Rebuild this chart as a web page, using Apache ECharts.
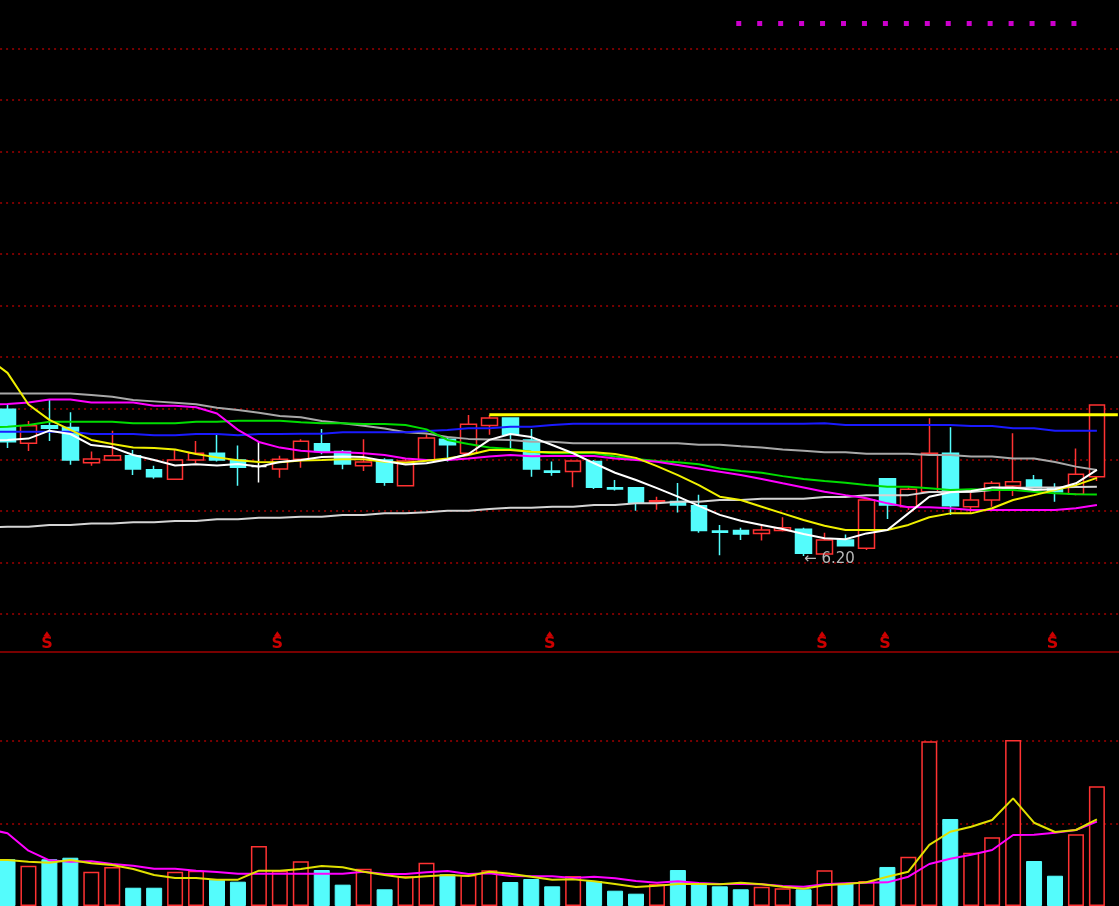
<!DOCTYPE html>
<html><head><meta charset="utf-8">
<script src="https://cdn.jsdelivr.net/npm/echarts@6/dist/echarts.min.js"></script>
<style>html,body{margin:0;padding:0;background:#000;overflow:hidden}#c{width:1119px;height:906px}</style>
</head><body><div id="c"></div>
<script>
// ---- data (53 trading days) ----
const DAYS = ['1','2','3','4','5','6','7','8','9','10','11','12','13','14','15','16','17','18','19','20','21','22','23','24','25','26','27','28','29','30','31','32','33','34','35','36','37','38','39','40','41','42','43','44','45','46','47','48','49','50','51','52','53'];
const OPEN  = [6.771,6.639,6.707,6.700,6.563,6.574,6.590,6.536,6.499,6.574,6.600,6.574,6.548,6.539,6.577,6.637,6.607,6.551,6.574,6.474,6.574,6.655,6.600,6.708,6.737,6.652,6.531,6.529,6.568,6.466,6.466,6.409,6.412,6.396,6.297,6.299,6.288,6.299,6.304,6.208,6.262,6.230,6.501,6.392,6.450,6.600,6.392,6.418,6.473,6.496,6.466,6.440,6.509];
const CLOSE = [6.645,6.707,6.697,6.574,6.578,6.590,6.539,6.509,6.574,6.600,6.574,6.546,6.548,6.577,6.647,6.607,6.558,6.566,6.487,6.570,6.659,6.633,6.713,6.737,6.674,6.539,6.526,6.570,6.468,6.461,6.408,6.415,6.399,6.299,6.292,6.286,6.301,6.310,6.211,6.262,6.240,6.418,6.399,6.460,6.600,6.396,6.418,6.483,6.489,6.466,6.450,6.518,6.788];
const LOW   = [6.620,6.609,6.648,6.555,6.551,6.574,6.515,6.501,6.499,6.561,6.568,6.474,6.486,6.505,6.544,6.596,6.538,6.531,6.474,6.474,6.574,6.568,6.600,6.672,6.617,6.509,6.512,6.468,6.461,6.455,6.376,6.380,6.369,6.291,6.203,6.262,6.260,6.295,6.200,6.208,6.240,6.223,6.344,6.379,6.450,6.360,6.366,6.392,6.434,6.466,6.411,6.437,6.492];
const HIGH  = [6.791,6.726,6.811,6.760,6.607,6.688,6.613,6.551,6.616,6.648,6.672,6.630,6.648,6.590,6.655,6.694,6.613,6.655,6.581,6.578,6.674,6.665,6.749,6.749,6.737,6.694,6.568,6.570,6.574,6.496,6.466,6.431,6.484,6.438,6.321,6.310,6.325,6.351,6.310,6.291,6.284,6.418,6.501,6.467,6.736,6.701,6.457,6.492,6.678,6.515,6.483,6.619,6.788];

// moving averages (first value = day before the window, off-screen)
const MA5   = [6.648, 6.652,6.657,6.688,6.675,6.632,6.623,6.593,6.574,6.552,6.557,6.552,6.558,6.548,6.566,6.574,6.585,6.587,6.585,6.570,6.556,6.561,6.576,6.597,6.652,6.675,6.663,6.632,6.600,6.561,6.524,6.496,6.464,6.431,6.395,6.360,6.337,6.321,6.305,6.286,6.269,6.265,6.288,6.301,6.366,6.431,6.448,6.453,6.467,6.467,6.457,6.460,6.483,6.535];
const MA10  = [6.975, 6.913,6.790,6.730,6.691,6.652,6.636,6.622,6.620,6.615,6.597,6.584,6.573,6.566,6.565,6.572,6.574,6.577,6.577,6.567,6.563,6.571,6.580,6.593,6.613,6.613,6.606,6.604,6.604,6.604,6.597,6.582,6.550,6.515,6.476,6.431,6.418,6.392,6.366,6.340,6.318,6.301,6.301,6.301,6.321,6.351,6.366,6.366,6.386,6.418,6.437,6.457,6.476,6.504];
const MA20  = [6.790, 6.792,6.798,6.809,6.809,6.798,6.798,6.798,6.785,6.785,6.779,6.755,6.691,6.644,6.622,6.610,6.604,6.604,6.600,6.593,6.580,6.574,6.574,6.580,6.587,6.593,6.588,6.589,6.589,6.589,6.580,6.574,6.567,6.554,6.541,6.528,6.515,6.500,6.483,6.467,6.450,6.437,6.425,6.405,6.390,6.390,6.386,6.379,6.379,6.379,6.379,6.379,6.386,6.399];
const MA30  = [6.700, 6.703,6.710,6.723,6.723,6.723,6.723,6.717,6.717,6.717,6.723,6.723,6.727,6.727,6.727,6.721,6.717,6.717,6.714,6.714,6.710,6.693,6.652,6.636,6.622,6.617,6.606,6.600,6.600,6.600,6.587,6.578,6.570,6.565,6.557,6.541,6.531,6.524,6.511,6.500,6.492,6.485,6.476,6.470,6.470,6.464,6.457,6.460,6.457,6.457,6.450,6.444,6.440,6.439];
const MA60  = [6.684, 6.684,6.684,6.684,6.684,6.675,6.675,6.675,6.670,6.670,6.675,6.675,6.670,6.675,6.675,6.676,6.676,6.682,6.682,6.682,6.682,6.687,6.691,6.697,6.697,6.703,6.703,6.710,6.715,6.715,6.715,6.715,6.715,6.715,6.715,6.715,6.715,6.715,6.715,6.715,6.717,6.710,6.710,6.710,6.710,6.710,6.710,6.706,6.706,6.697,6.697,6.688,6.688,6.688];
const MA120 = [6.833, 6.833,6.833,6.833,6.833,6.827,6.820,6.807,6.802,6.797,6.791,6.777,6.768,6.758,6.745,6.740,6.726,6.717,6.707,6.696,6.682,6.677,6.663,6.656,6.654,6.652,6.645,6.645,6.639,6.639,6.639,6.639,6.639,6.639,6.633,6.633,6.627,6.622,6.615,6.610,6.604,6.604,6.598,6.598,6.598,6.593,6.593,6.587,6.587,6.580,6.580,6.566,6.548,6.535];
const MA250 = [6.312, 6.314,6.314,6.321,6.321,6.327,6.327,6.331,6.331,6.336,6.336,6.343,6.343,6.349,6.349,6.353,6.353,6.360,6.360,6.366,6.366,6.370,6.376,6.376,6.383,6.388,6.388,6.392,6.392,6.399,6.399,6.405,6.405,6.411,6.411,6.418,6.418,6.423,6.423,6.423,6.430,6.430,6.437,6.437,6.437,6.449,6.449,6.449,6.457,6.465,6.467,6.467,6.469,6.470];

// horizontal level drawn from day 24 to the right edge
const LEVEL_START = 23;
const LEVEL_PRICE = 6.750;

// volume
const VOLUME  = [56.5,48.7,56.5,58.4,41.5,47.2,22.1,22.1,41.5,42.7,31.8,29.4,72.6,42.7,54.0,43.5,25.8,45.1,20.2,36.3,52.4,38.3,37.5,43.1,29.0,32.6,23.8,36.3,30.2,18.5,14.9,26.6,43.5,27.4,23.8,20.2,23.4,21.4,20.2,43.1,27.4,30.2,47.2,59.6,199.1,105.2,64.5,83.1,200.7,54.4,36.6,86.7,144.7];
const VOL_MA5  = [56.0, 55.6,53.6,52.4,55.6,51.6,49.6,44.7,37.5,33.9,33.9,31.8,31.8,42.7,42.7,44.7,48.4,46.8,41.5,37.5,34.2,35.9,37.5,36.3,41.5,39.1,35.4,31.8,32.2,29.8,26.6,23.0,24.5,26.6,26.6,26.2,28.2,26.2,23.4,20.9,25.0,26.6,28.7,35.4,41.5,73.8,89.8,95.9,104.0,130.2,100.7,89.5,91.9,104.8];
const VOL_MA10 = [93.5, 87.9,66.9,55.2,53.6,54.0,50.8,48.7,45.1,45.0,42.7,41.1,39.1,39.1,39.1,39.1,39.1,39.1,41.5,38.7,38.7,40.7,42.3,38.7,39.5,36.3,35.9,35.9,33.9,35.5,33.5,30.2,28.2,29.8,27.8,26.6,26.6,26.2,24.2,23.4,26.2,27.4,28.2,28.6,35.4,50.8,57.2,62.0,67.7,85.9,86.3,88.7,91.9,102.0];

// signal days ("S" marks) and top marker days
const SIGNAL_DAYS = [2, 13, 26, 39, 42, 50];
const TOP_MARK_DAYS = [35,36,37,38,39,40,41,42,43,44,45,46,47,48,49,50,51];

// ---- layout constants ----
const BW = 20.95;                 // band width per day
const LEFT = 7.5 - 1.5 * BW;      // one hidden slot left of day 1
const WIDTH = 55 * BW;            // 1 hidden + 53 days + 1 hidden
const UP = '#ff3232', DOWN = '#54fcfc', GRIDC = '#a00000';
const LW = 2;

const PAD = '-';
const cats = [''].concat(DAYS, ['']);
const candleData = [[PAD, PAD, PAD, PAD]];
for (let i = 0; i < DAYS.length; i++) {
  const it = { value: [OPEN[i], CLOSE[i], LOW[i], HIGH[i]] };
  if (OPEN[i] === CLOSE[i]) it.itemStyle = { color: '#fff', color0: '#fff', borderColor: '#fff', borderColor0: '#fff' };
  candleData.push(it);
}
candleData.push([PAD, PAD, PAD, PAD]);

const volData = [PAD];
for (let i = 0; i < DAYS.length; i++) {
  const up = CLOSE[i] >= OPEN[i];
  volData.push({ value: VOLUME[i], itemStyle: up ? { color: '#000', borderColor: UP, borderWidth: 1.5 } : { color: DOWN, borderColor: DOWN, borderWidth: 1 } });
}
volData.push(PAD);

let lowIdx = 0;
LOW.forEach((v, i) => { if (v < LOW[lowIdx]) lowIdx = i; });

const levelData = cats.map((c, k) => (k >= LEVEL_START + 1 ? LEVEL_PRICE : PAD));

function line(name, vals, color, width, xi, yi, z) {
  return { name, type: 'line', xAxisIndex: xi, yAxisIndex: yi, data: vals.concat([PAD]),
    symbol: 'none', silent: true, z: z || 3, lineStyle: { color, width }, animation: false };
}

const hiddenX = (gi, show) => ({ type: 'category', gridIndex: gi, data: cats, boundaryGap: true, show: !!show,
  axisTick: { show: false }, axisLabel: { show: false }, splitLine: { show: false },
  axisLine: { show: !!show, onZero: false, lineStyle: { color: GRIDC, width: 1.5 } } });
const hiddenY = (gi, min, max) => ({ type: 'value', gridIndex: gi, min, max, show: false, splitLine: { show: false } });
const gridAt = (top, height) => ({ left: LEFT, width: WIDTH, top, height, containLabel: false, outerBoundsMode: 'none' });

const option = {
  backgroundColor: '#000',
  animation: false,
  grid: [gridAt(48.7, 565.1), gridAt(657.9, 248.1), gridAt(625.5, 26), gridAt(15, 17)],
  xAxis: [hiddenX(0), hiddenX(1), hiddenX(2, true), hiddenX(3)],
  yAxis: [
    hiddenY(0, 5.975, 8.175),
    { type: 'value', gridIndex: 0, min: 0, max: 11, interval: 1, axisLine: { show: false }, axisTick: { show: false }, axisLabel: { show: false },
      splitLine: { show: true, lineStyle: { color: GRIDC, type: [2, 4], width: 1.5 } } },
    { type: 'value', gridIndex: 1, min: 0, max: 300, interval: 100, axisLine: { show: false }, axisTick: { show: false }, axisLabel: { show: false },
      splitLine: { show: true, showMinLine: false, showMaxLine: false, lineStyle: { color: GRIDC, type: [2, 4], width: 1.5 } } },
    hiddenY(2, 0, 1),
    hiddenY(3, 0, 1)
  ],
  series: [
    { type: 'candlestick', xAxisIndex: 0, yAxisIndex: 0, data: candleData, barWidth: 16, z: 2, silent: true,
      itemStyle: { color: '#000', color0: DOWN, borderColor: UP, borderColor0: DOWN, borderColorDoji: '#fff', borderWidth: 1.5 },
      markPoint: { symbol: 'circle', symbolSize: 1, silent: true, itemStyle: { color: 'transparent' },
        data: [{ coord: [lowIdx + 1, LOW[lowIdx]], value: LOW[lowIdx] }],
        label: { show: true, position: 'right', distance: 0, offset: [0, 3], color: '#b8b8b8', fontSize: 15,
          fontFamily: 'DejaVu Sans', formatter: p => '\u2190 ' + p.value.toFixed(2) } } },
    line('MA250', MA250, '#d4d4d4', LW, 0, 0),
    line('MA120', MA120, '#a8a8a8', LW, 0, 0),
    line('MA60', MA60, '#1a1aff', LW, 0, 0),
    line('MA30', MA30, '#00dd00', LW, 0, 0),
    line('MA20', MA20, '#ff00ff', LW, 0, 0),
    line('MA10', MA10, '#f0f000', LW, 0, 0),
    line('MA5', MA5, '#ffffff', LW, 0, 0),
    { name: 'level', type: 'line', xAxisIndex: 0, yAxisIndex: 0, data: levelData, symbol: 'none', silent: true, z: 5,
      lineStyle: { color: '#ffff00', width: 3 } },
    { type: 'bar', xAxisIndex: 1, yAxisIndex: 2, data: volData, barWidth: 16, z: 2, silent: true },
    line('VMA10', VOL_MA10, '#ff00ff', LW, 1, 2),
    line('VMA5', VOL_MA5, '#e0e000', LW, 1, 2),
    { type: 'scatter', xAxisIndex: 2, yAxisIndex: 3, silent: true, symbol: 'triangle', symbolSize: [7, 5], symbolOffset: [-2.5, 0],
      itemStyle: { color: '#ff0000' }, data: SIGNAL_DAYS.map(d => [d + 1, 0.68]) },
    { type: 'scatter', xAxisIndex: 2, yAxisIndex: 3, silent: true, symbol: 'circle', symbolSize: 1, itemStyle: { color: 'transparent' },
      label: { show: true, position: 'inside', offset: [-2.5, 0], formatter: 'S', color: '#ff0000', fontSize: 16, fontWeight: 'bold', fontFamily: 'DejaVu Sans' },
      data: SIGNAL_DAYS.map(d => [d + 1, 0.30]) },
    { type: 'scatter', xAxisIndex: 3, yAxisIndex: 4, silent: true, symbol: 'rect', symbolSize: 5, symbolOffset: [-2, 0],
      itemStyle: { color: '#ff00ff' }, data: TOP_MARK_DAYS.map(d => [d + 1, 0.5]) }
  ]
};
const chart = echarts.init(document.getElementById('c'), null, { renderer: 'canvas' });
chart.setOption(option);
</script></body></html>
